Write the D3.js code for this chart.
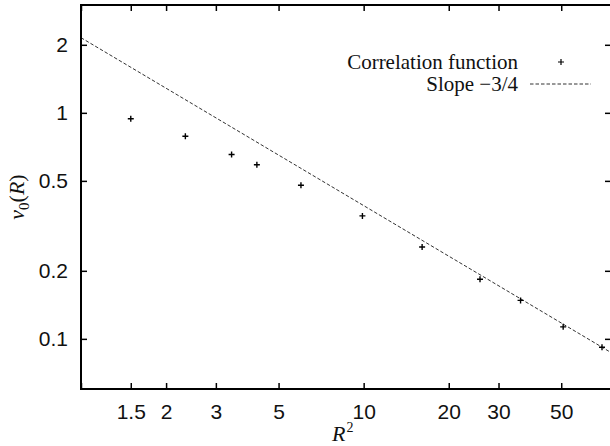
<!DOCTYPE html>
<html>
<head>
  <script src="https://d3js.org/d3.v7.min.js"></script>
  <style>
    html, body {
      margin: 0px;
      padding: 0px;
      background: #fff;
    }
    svg {
      font-family: "Liberation Serif", "Times New Roman", serif;
    }
    .axis text {
      font-size: 21px;
      fill: #111;
    }
    .axisLabel {
      font-size: 22px;
      fill: #111;
    }
    .legend text {
      font-size: 21px;
      fill: #111;
    }
  </style>
</head>
<body>
  <div id="chart"></div>
  <script>
    // canvas
    const width = 610;
    const height = 446;
    const margin = {top: 5, left: 81, right: -1, bottom: 57};

    const svg = d3.select("#chart")
      .append("svg")
      .attr("width", width)
      .attr("height", height);

    // data
    const rSquared = [1.5, 2.34, 3.41, 4.19, 6.0, 9.9, 16.1, 25.8, 35.9, 50.8, 69.7];
    const corrValues = [0.941, 0.788, 0.654, 0.589, 0.478, 0.350, 0.255, 0.1835, 0.148, 0.113, 0.0918];

    // slope -3/4 guide line, end points
    const slopeX = [1, 75];
    const slopeY = [2.15, 0.087];

    const xTicks = [1, 1.5, 2, 3, 5, 10, 20, 30, 50];
    const yTicks = [0.1, 0.2, 0.5, 1, 2];

    const points = rSquared.map((r, i) => ({x: r, y: corrValues[i]}));
    const slopeLine = slopeX.map((x, i) => ({x: x, y: slopeY[i]}));

    // scales
    const xScale = d3.scaleLog()
      .domain([1, 75])
      .range([margin.left, width - margin.right]);

    const yScale = d3.scaleLog()
      .domain([0.06, 3])
      .range([height - margin.bottom, margin.top]);

    // clip for the plot region
    svg.append("clipPath")
      .attr("id", "plotClip")
      .append("rect")
      .attr("x", margin.left)
      .attr("y", margin.top)
      .attr("width", width - margin.right - margin.left)
      .attr("height", height - margin.bottom - margin.top);

    // slope line
    const line = d3.line()
      .x(d => xScale(d.x))
      .y(d => yScale(d.y));

    svg.append("path")
      .datum(slopeLine)
      .attr("clip-path", "url(#plotClip)")
      .attr("d", line)
      .attr("fill", "none")
      .attr("stroke", "#333")
      .attr("stroke-width", 1)
      .attr("stroke-dasharray", "3.5,2");

    // points as plus marks
    const plus = "M-3,0H3M0,-3V3";
    svg.append("g")
      .selectAll("path")
      .data(points)
      .join("path")
      .attr("transform", d => `translate(${xScale(d.x)},${yScale(d.y)})`)
      .attr("d", plus)
      .attr("stroke", "#000")
      .attr("stroke-width", 1.4)
      .attr("fill", "none");

    // axes (ticks inside, mirrored)
    const xAxis = svg.append("g")
      .attr("class", "axis")
      .attr("transform", `translate(0,${height - margin.bottom})`)
      .call(d3.axisBottom(xScale).tickValues(xTicks).tickFormat(d => d === 1 ? "" : d).tickSize(-6));
    xAxis.selectAll("text").attr("y", 30).attr("dy", null);

    svg.append("g")
      .attr("transform", `translate(0,${margin.top})`)
      .call(d3.axisTop(xScale).tickValues(xTicks).tickFormat("").tickSize(-6));

    const yAxis = svg.append("g")
      .attr("class", "axis")
      .attr("transform", `translate(${margin.left},0)`)
      .call(d3.axisLeft(yScale).tickValues(yTicks).tickFormat(d => d).tickSize(-6));
    yAxis.selectAll("text").attr("x", -13).attr("dy", "0.33em");

    svg.append("g")
      .attr("transform", `translate(${width - margin.right},0)`)
      .call(d3.axisRight(yScale).tickValues(yTicks).tickFormat("").tickSize(-6));

    svg.selectAll(".domain").remove();
    svg.selectAll(".tick line").attr("stroke", "#000").attr("stroke-width", 1.5);

    // frame
    svg.append("rect")
      .attr("x", margin.left)
      .attr("y", margin.top)
      .attr("width", width - margin.right - margin.left)
      .attr("height", height - margin.bottom - margin.top)
      .attr("fill", "none")
      .attr("stroke", "#000")
      .attr("stroke-width", 2);

    // axis labels
    const xLab = svg.append("text")
      .attr("class", "axisLabel")
      .attr("x", 332)
      .attr("y", 441);
    xLab.append("tspan").attr("font-style", "italic").text("R");
    xLab.append("tspan").attr("font-size", "14px").attr("dx", 1).attr("dy", -9).text("2");

    const yLab = svg.append("text")
      .attr("class", "axisLabel")
      .attr("text-anchor", "middle")
      .attr("transform", "translate(24,197) rotate(-90)");
    yLab.append("tspan").attr("font-style", "italic").text("v");
    yLab.append("tspan").attr("font-size", "15px").attr("dy", 5).text("0");
    yLab.append("tspan").attr("dy", -5).text("(");
    yLab.append("tspan").attr("font-style", "italic").text("R");
    yLab.append("tspan").text(")");

    // legend
    const legend = svg.append("g").attr("class", "legend");
    legend.append("text")
      .attr("x", 518).attr("y", 69)
      .attr("text-anchor", "end")
      .text("Correlation function");
    legend.append("path")
      .attr("transform", "translate(561,62)")
      .attr("d", plus)
      .attr("stroke", "#000")
      .attr("stroke-width", 1.2);
    legend.append("text")
      .attr("x", 518).attr("y", 91)
      .attr("text-anchor", "end")
      .text("Slope \u22123/4");
    legend.append("line")
      .attr("x1", 530).attr("x2", 591)
      .attr("y1", 84).attr("y2", 84)
      .attr("stroke", "#333")
      .attr("stroke-width", 1)
      .attr("stroke-dasharray", "3.5,2");
  </script>
</body>
</html>
